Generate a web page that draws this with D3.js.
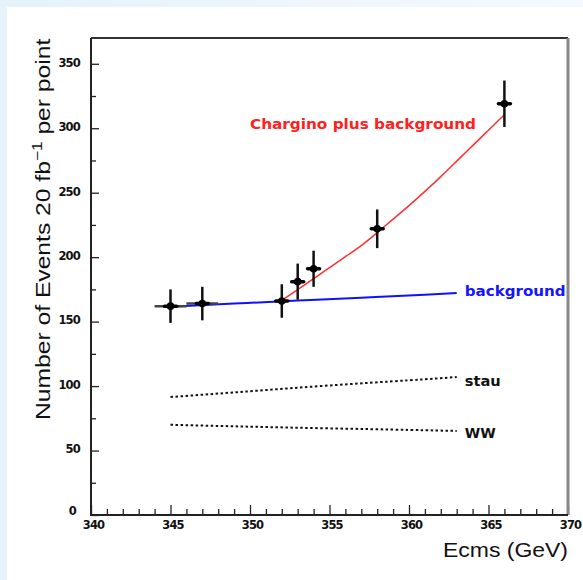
<!DOCTYPE html>
<html>
<head>
<meta charset="utf-8">
<script src="https://cdn.jsdelivr.net/npm/d3@7/dist/d3.min.js"></script>
<style>
  html, body { margin: 0; padding: 0; background: #ffffff; }
  svg { display: block; }
</style>
</head>
<body>
<svg id="chart" width="583" height="580"></svg>
<script>
// Measured scan points: centre-of-mass energy (GeV), events per point and errors
const energies = [345, 347, 352, 353, 354, 358, 366];
const events = [162, 164, 166, 181, 191, 222, 319];
const eventErrors = [13, 13, 13, 14, 14, 15, 18];
const energyErrors = [1, 1, 0, 0, 0, 0, 0];

// Expected curves
const signalEnergies = [352, 353, 354, 355, 356, 357, 358, 359, 360, 361, 362, 363, 364, 365, 366];
const signalEvents = [166.5, 174.8, 183.3, 191.8, 200.5, 209, 219, 229.5, 240, 251, 262.5, 274.5, 286.5, 298.5, 310.5];
const bgEnergies = [345, 349, 353, 357, 361, 363];
const bgEvents = [161.5, 164, 166.3, 168.6, 170.9, 172.2];
const stauEnergies = [345, 350, 355, 360, 363];
const stauEvents = [91.5, 96, 100.5, 104.5, 107];
const wwEnergies = [345, 350, 355, 360, 363];
const wwEvents = [70, 68.5, 67.2, 66, 65.2];

// Axis ticks
const xMajorTicks = [340, 345, 350, 355, 360, 365, 370];
const yMajorTicks = [0, 50, 100, 150, 200, 250, 300, 350];

const svg = d3.select("#chart");
const W = 583, H = 580;
const frame = { left: 91, right: 568, top: 38, bottom: 515 };

// page backdrop
const defs = svg.append("defs");
const grad = defs.append("linearGradient").attr("id", "topband").attr("x1", 0).attr("x2", 1);
grad.append("stop").attr("offset", 0).attr("stop-color", "#e4f2fa");
grad.append("stop").attr("offset", 1).attr("stop-color", "#f4fafd");
svg.append("rect").attr("width", W).attr("height", H).attr("fill", "#e6f3fa");
svg.append("rect").attr("width", W).attr("height", 7).attr("fill", "url(#topband)");
svg.append("rect").attr("x", 7).attr("y", 7).attr("width", W - 7).attr("height", H - 7).attr("fill", "#ffffff");

const x = d3.scaleLinear().domain([340, 370]).range([frame.left, frame.right]);
const y = d3.scaleLinear().domain([0, 370]).range([frame.bottom, frame.top]);

const tickFont = "'DejaVu Sans', sans-serif";

// x axis: major and minor ticks pointing into the frame
const xMajor = d3.axisBottom(x).tickValues(xMajorTicks).tickSize(-10).tickPadding(6).tickFormat(d3.format("d"));
const xMinor = d3.axisBottom(x).tickValues(d3.range(340, 371, 1).filter(v => v % 5 !== 0)).tickSize(-6).tickFormat("");
svg.append("g").attr("transform", `translate(0,${frame.bottom})`).call(xMinor)
  .call(g => g.select(".domain").remove())
  .call(g => g.selectAll("line").attr("stroke", "#222").attr("stroke-width", 1.3));
svg.append("g").attr("transform", `translate(0,${frame.bottom})`).call(xMajor)
  .call(g => g.select(".domain").remove())
  .call(g => g.selectAll("line").attr("stroke", "#222").attr("stroke-width", 1.3))
  .call(g => g.selectAll("text").attr("font-family", tickFont).attr("font-size", 11.5).attr("font-weight", "bold")
    .attr("fill", "#111").attr("letter-spacing", -0.8).attr("dx", 2));

// y axis
const yMajor = d3.axisLeft(y).tickValues(yMajorTicks).tickSize(-8).tickPadding(11).tickFormat(d3.format("d"));
const yMinor = d3.axisLeft(y).tickValues(d3.range(25, 370, 50)).tickSize(-5).tickFormat("");
svg.append("g").attr("transform", `translate(${frame.left},0)`).call(yMinor)
  .call(g => g.select(".domain").remove())
  .call(g => g.selectAll("line").attr("stroke", "#222").attr("stroke-width", 1.3));
svg.append("g").attr("transform", `translate(${frame.left},0)`).call(yMajor)
  .call(g => g.select(".domain").remove())
  .call(g => g.selectAll("line").attr("stroke", "#222").attr("stroke-width", 1.3))
  .call(g => g.selectAll("text").attr("font-family", tickFont).attr("font-size", 11.5).attr("font-weight", "bold")
    .attr("fill", "#111").attr("letter-spacing", -0.8).attr("dy", "0.2em"))
  .call(g => g.selectAll(".tick").filter(d => d === 0).select("text").attr("dy", "-0.05em").attr("dx", -4));

// frame
svg.append("line").attr("x1", frame.left).attr("x2", frame.right).attr("y1", frame.top).attr("y2", frame.top)
  .attr("stroke", "#333").attr("stroke-width", 2);
svg.append("line").attr("x1", frame.right).attr("x2", frame.right).attr("y1", frame.top).attr("y2", frame.bottom)
  .attr("stroke", "#888").attr("stroke-width", 3);
svg.append("line").attr("x1", frame.left).attr("x2", frame.left).attr("y1", frame.top).attr("y2", frame.bottom + 1)
  .attr("stroke", "#222").attr("stroke-width", 2);
svg.append("line").attr("x1", frame.left).attr("x2", frame.right).attr("y1", frame.bottom).attr("y2", frame.bottom)
  .attr("stroke", "#222").attr("stroke-width", 2);

// curves
const line = d3.line().x(d => x(d[0])).y(d => y(d[1])).curve(d3.curveNatural);
const pairs = (xs, ys) => xs.map((v, i) => [v, ys[i]]);

svg.append("path").datum(pairs(stauEnergies, stauEvents)).attr("d", line)
  .attr("fill", "none").attr("stroke", "#111").attr("stroke-width", 2).attr("stroke-dasharray", "2.5,2.5");
svg.append("path").datum(pairs(wwEnergies, wwEvents)).attr("d", line)
  .attr("fill", "none").attr("stroke", "#111").attr("stroke-width", 2).attr("stroke-dasharray", "2.5,2.5");
svg.append("path").datum(pairs(bgEnergies, bgEvents)).attr("d", line)
  .attr("fill", "none").attr("stroke", "#1010ff").attr("stroke-width", 2);
svg.append("path").datum(pairs(signalEnergies, signalEvents)).attr("d", line)
  .attr("fill", "none").attr("stroke", "#ff3030").attr("stroke-width", 1.5);

// data points with error bars
const pts = energies.map((e, i) => ({ e, n: events[i], dn: eventErrors[i], de: energyErrors[i] }));
const pg = svg.append("g");
pg.selectAll(".ey").data(pts).join("line")
  .attr("x1", d => x(d.e)).attr("x2", d => x(d.e))
  .attr("y1", d => y(d.n - d.dn)).attr("y2", d => y(d.n + d.dn))
  .attr("stroke", "#111").attr("stroke-width", 2.5);
pg.selectAll(".ex").data(pts.filter(d => d.de > 0)).join("line")
  .attr("x1", d => x(d.e - d.de)).attr("x2", d => x(d.e + d.de))
  .attr("y1", d => y(d.n)).attr("y2", d => y(d.n))
  .attr("stroke", "#444").attr("stroke-width", 2.5);
pg.selectAll(".bar").data(pts).join("line")
  .attr("x1", d => x(d.e) - 6).attr("x2", d => x(d.e) + 6)
  .attr("y1", d => y(d.n)).attr("y2", d => y(d.n))
  .attr("stroke", "#000").attr("stroke-width", 3.5).attr("stroke-linecap", "round");
pg.selectAll("circle").data(pts).join("circle")
  .attr("cx", d => x(d.e)).attr("cy", d => y(d.n)).attr("r", 3.8).attr("fill", "#000");

// curve labels
const labelFont = "'DejaVu Sans', sans-serif";
function label(text, px, py, color, width) {
  svg.append("text").attr("x", px).attr("y", py).text(text)
    .attr("font-family", labelFont).attr("font-size", 14).attr("font-weight", "bold")
    .attr("fill", color).attr("textLength", width).attr("lengthAdjust", "spacingAndGlyphs");
}
label("Chargino plus background", 250, 129, "#ff2020", 226);
label("background", x(d3.max(bgEnergies)) + 8, 296, "#1414ff", 101);
label("stau", x(d3.max(stauEnergies)) + 8, 386, "#111", 36);
label("WW", x(d3.max(wwEnergies)) + 8, 438, "#111", 31);

// axis titles
svg.append("text").attr("x", frame.right).attr("y", 557).attr("text-anchor", "end")
  .attr("font-family", "'Liberation Sans', Arial, sans-serif").attr("font-size", 20).attr("fill", "#111")
  .attr("textLength", 125).attr("lengthAdjust", "spacingAndGlyphs")
  .text("Ecms (GeV)");

// vertical title, stretched to span from y=420 up to the frame top
const ytg = svg.append("g").attr("transform", "translate(50,420) rotate(-90)");
const yt = ytg.append("text")
  .attr("font-family", "'Liberation Sans', Arial, sans-serif").attr("font-size", 20).attr("fill", "#111");
yt.append("tspan").text("Number of Events  20 fb");
yt.append("tspan").attr("dy", -8).attr("font-size", 14).text("−1");
yt.append("tspan").attr("dy", 8).text("  per point");
const ytLen = yt.node().getBBox().width;
yt.attr("transform", `scale(${(420 - frame.top) / ytLen},1)`);
</script>
</body>
</html>
